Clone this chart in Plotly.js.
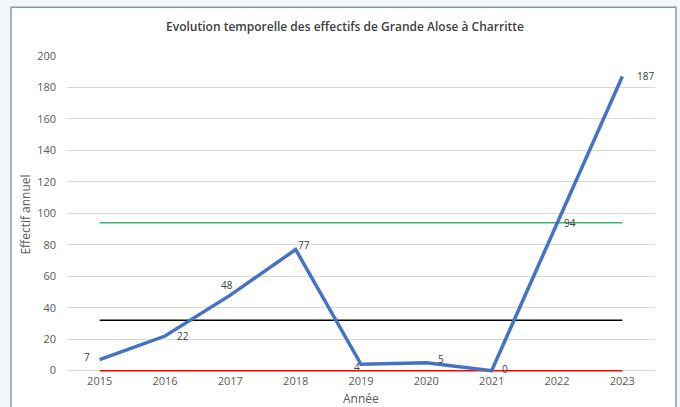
<!DOCTYPE html>
<html>
<head>
<meta charset="utf-8">
<script src="https://cdn.plot.ly/plotly-3.0.1.min.js"></script>
<style>
html,body{margin:0;padding:0;background:#f4f7fa;}
#chart{width:680px;height:407px;}
</style>
</head>
<body>
<div id="chart"></div>
<script>
const years = ["2015","2016","2017","2018","2019","2020","2021","2022","2023"];
const effectifs = [7, 22, 48, 77, 4, 5, 0, 94, 187];
const labelShiftX = [-13, 18, -3, 8, -4, 15, 13, 13, 23];
const labelShiftY = [3, 0, 10, 5, -3, 4, 2, 0, 0];
const seuilVert = 94;
const seuilNoir = 32;
const seuilRouge = 0;
const yTicks = [0,20,40,60,80,100,120,140,160,180,200];
const xTitle = 'Année';

function flat(v){ return years.map(() => v); }

const traces = [
  {x: years, y: flat(seuilRouge), type:'scatter', mode:'lines', line:{color:'#ff0000', width:1.5}, hoverinfo:'skip'},
  {x: years, y: flat(seuilNoir), type:'scatter', mode:'lines', line:{color:'#000000', width:1.5}, hoverinfo:'skip'},
  {x: years, y: flat(seuilVert), type:'scatter', mode:'lines', line:{color:'#3cb46e', width:1.5}, hoverinfo:'skip'},
  {x: years, y: effectifs, type:'scatter', mode:'lines',
   line:{color:'#4472c4', width:3.5}}
];

// category index of each year on the category axis
const annotations = years.map((yr, i) => ({
  x: years.indexOf(yr), y: effectifs[i], xref:'x', yref:'y', text: String(effectifs[i]),
  showarrow:false, xanchor:'center', yanchor:'middle',
  xshift: labelShiftX[i], yshift: labelShiftY[i],
  font:{family:'Open Sans, sans-serif', size:10, color:'#404040'}
}));
annotations.push({
  x:0.5, y:-0.082, xref:'paper', yref:'paper', text:xTitle, showarrow:false,
  xanchor:'center', yanchor:'middle', font:{family:'Open Sans, sans-serif', size:12, color:'#595959'}
});

const layout = {
  width:680, height:407,
  margin:{l:67, r:25, t:56, b:34},
  paper_bgcolor:'#f4f7fa',
  plot_bgcolor:'rgba(0,0,0,0)',
  showlegend:false,
  font:{family:'Open Sans, sans-serif', color:'#595959', size:11},
  title:{text:'Evolution temporelle des effectifs de Grande Alose à Charritte',
    font:{family:'Open Sans, sans-serif', size:12, color:'#404040', weight:600},
    x:(345-67)/588, xanchor:'center', y:1-27/407, yanchor:'middle', xref:'paper'},
  xaxis:{type:'category', range:[-0.5,8.5], showgrid:false, zeroline:false, showline:false,
    ticks:'', tickfont:{size:11, color:'#595959'}},
  yaxis:{range:[-1.5,200], tickvals:yTicks, showgrid:true, gridcolor:'#d9d9d9', gridwidth:1,
    zeroline:false, showline:false, ticks:'', ticklabelstandoff:10, tickfont:{size:11, color:'#595959'},
    title:{text:'Effectif annuel', font:{size:12, color:'#595959'}, standoff:3}},
  annotations: annotations,
  shapes:[
    {type:'rect', xref:'paper', yref:'paper', x0:-0.0952, x1:1.0357, y0:-0.25, y1:1.154,
     fillcolor:'#ffffff', line:{color:'#8898a8', width:1.5}, layer:'below'}
  ]
};

Plotly.newPlot('chart', traces, layout, {displayModeBar:false, staticPlot:true});
</script>
</body>
</html>
